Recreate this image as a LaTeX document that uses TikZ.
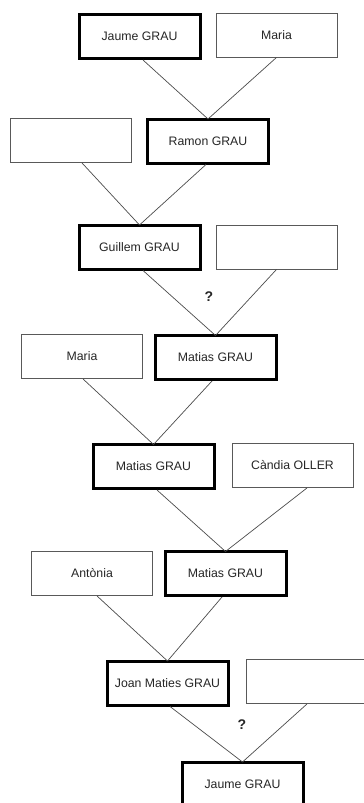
\documentclass[tikz,border=0pt]{standalone}
\usepackage{fontspec}
\setmainfont{Liberation Sans}
\begin{document}
\begin{tikzpicture}[x=1pt,y=-1pt,
  person/.style={rectangle,minimum width=121pt,minimum height=44pt,inner sep=0pt,
    font=\fontsize{12.3}{14}\selectfont,text=black!85},
  bold/.style={person,draw=black,line width=3pt},
  thin/.style={person,draw=black!65,line width=0.9pt},
  link/.style={draw=black!70,line width=0.7pt},
  qmark/.style={font=\fontsize{14}{16}\selectfont\bfseries,text=black!85}]
\useasboundingbox (0,0) rectangle (364,803);
\clip (0,0) rectangle (364,803);
\fill[white] (0,0) rectangle (364,803);
% row 1
\node[bold] (j1) at (139.5,36.5) {Jaume GRAU};
\node[thin] (m1) at (276.5,35) {Maria};
% row 2
\node[thin] (e2) at (71,140.5) {};
\node[bold] (r2) at (208,141) {Ramon GRAU};
% row 3
\node[bold] (g3) at (139.5,247) {Guillem GRAU};
\node[thin] (e3) at (276.5,247) {};
% row 4
\node[thin] (m4) at (82,356.5) {Maria};
\node[bold] (t4) at (215.5,357.5) {Matias GRAU};
% row 5
\node[bold] (t5) at (153.5,466.5) {Matias GRAU};
\node[thin] (c5) at (292.5,465.5) {Càndia OLLER};
% row 6
\node[thin] (a6) at (92,573.5) {Antònia};
\node[bold] (t6) at (225.5,573.5) {Matias GRAU};
% row 7
\node[bold] (jm7) at (167.5,683) {Joan Maties GRAU};
\node[thin] (e7) at (307,681.5) {};
% row 8
\node[bold] (j8) at (242.5,784) {Jaume GRAU};
% question marks
\node[qmark] (q1) at (209,297) {?};
\node[qmark] (q2) at (242,725) {?};
% connectors
\draw[link] ([xshift=3.5pt]j1.south) -- ([yshift=-1.5pt]r2.north);
\draw[link] (m1.south) -- ([yshift=-1.5pt]r2.north);
\draw[link] ([xshift=11pt]e2.south) -- ([yshift=-1.5pt]g3.north);
\draw[link] ([xshift=-2pt]r2.south) -- ([yshift=-1.5pt]g3.north);
\draw[link] ([xshift=3.5pt]g3.south) -- ([yshift=-1.5pt]t4.north);
\draw[link] (e3.south) -- ([yshift=-1.5pt]t4.north);
\draw[link] ([xshift=1pt]m4.south) -- ([yshift=-1.5pt]t5.north);
\draw[link] ([xshift=-3.5pt]t4.south) -- ([yshift=-1.5pt]t5.north);
\draw[link] ([xshift=3.5pt]t5.south) -- ([yshift=-1.5pt]t6.north);
\draw[link] ([xshift=14.5pt]c5.south) -- ([yshift=-1.5pt]t6.north);
\draw[link] ([xshift=5pt]a6.south) -- ([yshift=-1.5pt]jm7.north);
\draw[link] ([xshift=-3.5pt]t6.south) -- ([yshift=-1.5pt]jm7.north);
\draw[link] ([xshift=2.5pt]jm7.south) -- ([yshift=-1.5pt]j8.north);
\draw[link] (e7.south) -- ([yshift=-1.5pt]j8.north);
\end{tikzpicture}
\end{document}
